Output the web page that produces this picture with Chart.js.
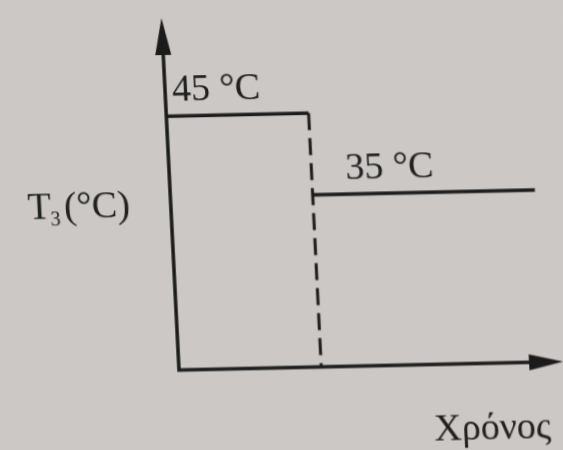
<!DOCTYPE html>
<html>
<head>
<meta charset="utf-8">
<script src="https://cdn.jsdelivr.net/npm/chart.js@4/dist/chart.umd.min.js"></script>
<style>
  html, body { margin: 0; padding: 0; width: 563px; height: 450px; overflow: hidden; background: #cbc8c5; }
  /* the printed figure sits slightly askew on the page */
  #wrap { position: absolute; left: 0; top: 0; width: 580px; height: 480px;
          transform-origin: 179px 370px; transform: matrix(1, -0.022, 0.05, 1, 0, 0); }
</style>
</head>
<body>
<div id="wrap"><canvas id="c" width="580" height="480"></canvas></div>
<script>
// time points: start, switch-over, end of the trace
const timeBreaks = [0, 4, 10.25];
// T3 before and after the switch-over
const temperatures = [45, 35];
const tempLabels = ['45 °C', '35 °C'];
const yTitleParts = ['T', '3', '(°C)'];
const xTitle = 'Χρόνος';
const timeMax = 10.8;
const tempMin = 14, tempMax = 57;

const INK = '#1b1b1b';
const TEXT = '#202020';
const SERIF = '"Liberation Serif", "DejaVu Serif", serif';

const axesAndText = {
  id: 'axesAndText',
  beforeDraw(chart) {
    const ctx = chart.ctx;
    ctx.save();
    ctx.fillStyle = '#cbc8c5';
    ctx.fillRect(0, 0, chart.width, chart.height);
    ctx.restore();
  },
  afterDatasetsDraw(chart) {
    const { ctx, chartArea: a, scales: { x, y } } = chart;
    const ox = x.getPixelForValue(0), oy = y.getPixelForValue(tempMin);
    ctx.save();
    ctx.strokeStyle = INK; ctx.fillStyle = INK;
    ctx.lineWidth = 3.5; ctx.lineCap = 'butt';
    // axes
    ctx.beginPath();
    ctx.moveTo(ox, a.top + 20); ctx.lineTo(ox, oy); ctx.lineTo(a.right - 20, oy);
    ctx.stroke();
    // arrow heads
    ctx.beginPath();
    ctx.moveTo(ox, a.top); ctx.lineTo(ox - 8, a.top + 37); ctx.lineTo(ox + 8, a.top + 37); ctx.closePath();
    ctx.fill();
    ctx.beginPath();
    ctx.moveTo(a.right, oy); ctx.lineTo(a.right - 34, oy - 8); ctx.lineTo(a.right - 34, oy + 8); ctx.closePath();
    ctx.fill();

    // value labels
    ctx.fillStyle = TEXT;
    ctx.font = '38px ' + SERIF;
    ctx.textBaseline = 'alphabetic';
    ctx.fillText(tempLabels[0], x.getPixelForValue(timeBreaks[0]) + 7, y.getPixelForValue(temperatures[0]) - 15);
    ctx.fillText(tempLabels[1], x.getPixelForValue(timeBreaks[1]) + 34, y.getPixelForValue(temperatures[1]) - 15);

    // y title with subscript
    let tx = ox - 143;
    const ty = oy - 154;
    ctx.fillText(yTitleParts[0], tx, ty);
    tx += ctx.measureText(yTitleParts[0]).width - 1;
    ctx.font = '20px ' + SERIF;
    ctx.fillText(yTitleParts[1], tx, ty + 7);
    tx += ctx.measureText(yTitleParts[1]).width + 4;
    ctx.font = '38px ' + SERIF;
    ctx.fillText(yTitleParts[2], tx, ty);

    // x title
    ctx.fillText(xTitle, a.right - 132, oy + 76);
    ctx.restore();
  }
};

new Chart(document.getElementById('c'), {
  type: 'line',
  data: {
    datasets: [
      { data: [{ x: timeBreaks[0], y: temperatures[0] }, { x: timeBreaks[1], y: temperatures[0] }],
        borderColor: INK, borderWidth: 3.5 },
      { data: [{ x: timeBreaks[1], y: temperatures[1] }, { x: timeBreaks[2], y: temperatures[1] }],
        borderColor: INK, borderWidth: 3.5 },
      { data: [{ x: timeBreaks[1], y: temperatures[0] }, { x: timeBreaks[1], y: tempMin }],
        borderColor: INK, borderWidth: 3, borderDash: [17, 8] }
    ]
  },
  options: {
    responsive: false,
    animation: false,
    devicePixelRatio: 1,
    layout: { padding: { left: 179, top: 18, right: 17, bottom: 110 } },
    elements: { point: { radius: 0 }, line: { tension: 0, borderCapStyle: 'butt' } },
    plugins: { legend: { display: false }, tooltip: { enabled: false } },
    scales: {
      x: { type: 'linear', min: 0, max: timeMax, display: false },
      y: { type: 'linear', min: tempMin, max: tempMax, display: false }
    }
  },
  plugins: [axesAndText]
});
</script>
</body>
</html>
